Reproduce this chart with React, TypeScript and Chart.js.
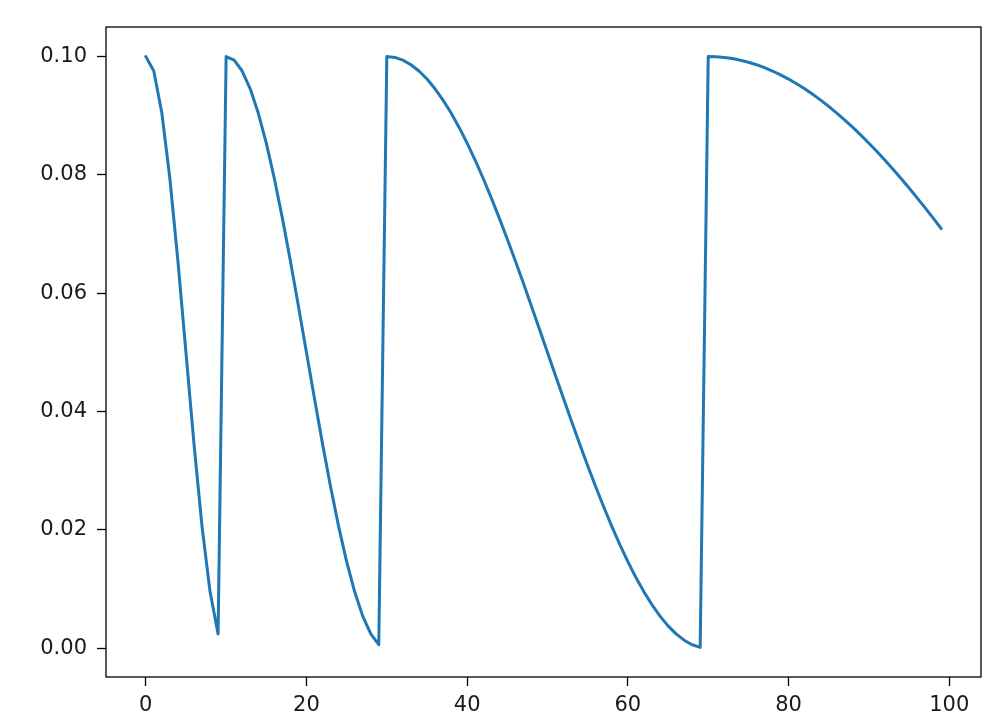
import React, { useEffect, useRef } from "react";
import { Chart, registerables } from "chart.js";

Chart.register(...registerables);

const epochs: number[] = Array.from({ length: 100 }, (_, i) => i);

const learningRate: number[] = [
  // cycle 1 (epochs 0-9)
  0.1, 0.097553, 0.090451, 0.079389, 0.065451, 0.05, 0.034549, 0.020611, 0.009549, 0.002447,
  // cycle 2 (epochs 10-29)
  0.1, 0.099384, 0.097553, 0.09455, 0.090451, 0.085355, 0.079389, 0.0727, 0.065451, 0.057822,
  0.05, 0.042178, 0.034549, 0.0273, 0.020611, 0.014645, 0.009549, 0.00545, 0.002447, 0.000616,
  // cycle 3 (epochs 30-69)
  0.1, 0.099846, 0.099384, 0.098619, 0.097553, 0.096194, 0.09455, 0.092632, 0.090451, 0.08802,
  0.085355, 0.082472, 0.079389, 0.076125, 0.0727, 0.069134, 0.065451, 0.061672, 0.057822, 0.053923,
  0.05, 0.046077, 0.042178, 0.038328, 0.034549, 0.030866, 0.0273, 0.023875, 0.020611, 0.017528,
  0.014645, 0.01198, 0.009549, 0.007368, 0.00545, 0.003806, 0.002447, 0.001381, 0.000616, 0.000154,
  // cycle 4 (epochs 70-99)
  0.1, 0.099961, 0.099846, 0.099653, 0.099384, 0.099039, 0.098619, 0.098123, 0.097553, 0.09691,
  0.096194, 0.095407, 0.09455, 0.093625, 0.092632, 0.091573, 0.090451, 0.089266, 0.08802, 0.086716,
  0.085355, 0.08394, 0.082472, 0.080955, 0.079389, 0.077779, 0.076125, 0.074431, 0.0727, 0.070933,
];

const xTicks: number[] = [0, 20, 40, 60, 80, 100];
const yTicks: number[] = [0, 0.02, 0.04, 0.06, 0.08, 0.1];

const framePlugin = {
  id: "frame",
  afterDraw(chart: any) {
    const { ctx, chartArea } = chart;
    ctx.save();
    ctx.strokeStyle = "#000";
    ctx.lineWidth = 1.3;
    ctx.strokeRect(chartArea.left, chartArea.top, chartArea.right - chartArea.left, chartArea.bottom - chartArea.top);
    ctx.restore();
  },
};

export default function App() {
  const ref = useRef<HTMLCanvasElement | null>(null);

  useEffect(() => {
    document.body.style.margin = "0";
    const canvas = ref.current!;
    const font = { family: "'DejaVu Sans', sans-serif", size: 21 };
    const chart = new Chart(canvas, {
      type: "line",
      data: {
        datasets: [
          {
            data: epochs.map((e, i) => ({ x: e, y: learningRate[i] })),
            borderColor: "#1f77b4",
            borderWidth: 3,
            borderCapStyle: "round",
            borderJoinStyle: "round",
            pointRadius: 0,
            tension: 0,
            fill: false,
          },
        ],
      },
      options: {
        animation: false,
        responsive: false,
        maintainAspectRatio: false,
        layout: { padding: { top: 27, right: 18, left: 0, bottom: 0 } },
        plugins: { legend: { display: false }, tooltip: { enabled: false } },
        scales: {
          x: {
            type: "linear",
            min: -4.95,
            max: 103.95,
            afterBuildTicks: (s: any) => {
              s.ticks = xTicks.map((v) => ({ value: v }));
            },
            afterFit: (s: any) => {
              s.height = 49;
            },
            grid: { display: true, drawOnChartArea: false, drawTicks: true, tickLength: 9, tickWidth: 1.3, tickColor: "#000" },
            border: { display: false },
            ticks: { color: "#1a1a1a", font, padding: 7, maxRotation: 0, autoSkip: false, callback: (v: any) => String(v) },
          },
          y: {
            type: "linear",
            min: -0.00484,
            max: 0.10499,
            afterBuildTicks: (s: any) => {
              s.ticks = yTicks.map((v) => ({ value: v }));
            },
            afterFit: (s: any) => {
              s.width = 106;
            },
            grid: { display: true, drawOnChartArea: false, drawTicks: true, tickLength: 9, tickWidth: 1.3, tickColor: "#000" },
            border: { display: false },
            ticks: { color: "#1a1a1a", font, padding: 10, autoSkip: false, callback: (v: any) => Number(v).toFixed(2) },
          },
        },
      },
      plugins: [framePlugin],
    });
    return () => chart.destroy();
  }, []);

  return (
    <div style={{ position: "absolute", left: 0, top: 0, width: 999, height: 726, background: "#fff" }}>
      <canvas ref={ref} width={999} height={726} style={{ width: 999, height: 726, display: "block" }} />
    </div>
  );
}
